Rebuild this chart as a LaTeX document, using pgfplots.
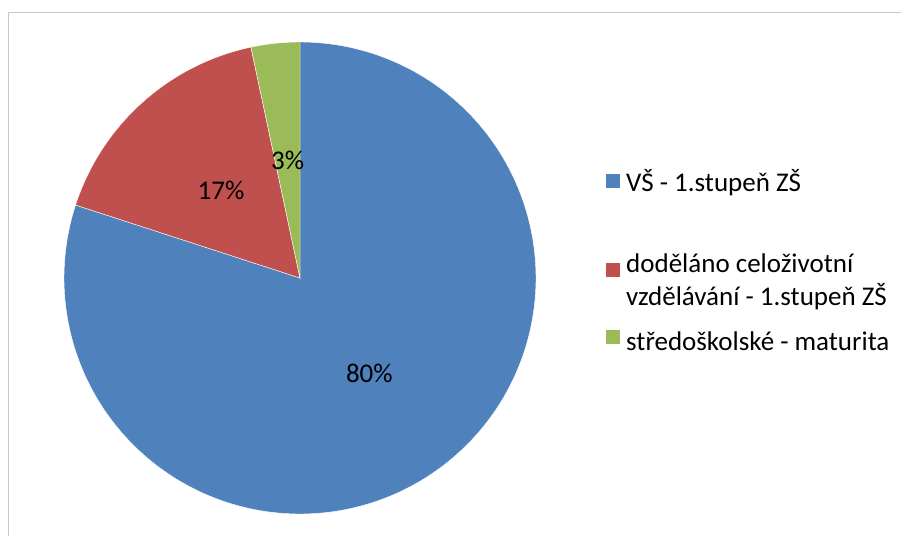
\documentclass[border=0pt]{standalone}
\usepackage{pgfplots}
\pgfplotsset{compat=1.18}
\usepackage{fontspec}
\setmainfont{Carlito}
\definecolor{cblue}{HTML}{4F81BD}
\definecolor{cred}{HTML}{C0504D}
\definecolor{cgreen}{HTML}{9BBB59}
\definecolor{cframe}{HTML}{C8C8C8}
\begin{document}
\begin{tikzpicture}[x=1pt,y=1pt]
\path[use as bounding box] (0,0) rectangle (901,536);
\draw[cframe, line width=1.2pt] (8.5,0) -- (8.5,523.5) -- (901,523.5);
% data: counts per category
\def\vA{24}\def\vB{5}\def\vC{1}
\pgfmathsetmacro\tot{\vA+\vB+\vC}
\pgfmathsetmacro\aA{90-360*\vA/\tot}
\pgfmathsetmacro\aB{\aA-360*\vB/\tot}
\pgfmathsetmacro\aC{\aB-360*\vC/\tot}
\pgfmathsetmacro\mA{(90+\aA)/2}
\pgfmathsetmacro\mB{(\aA+\aB)/2}
\pgfmathsetmacro\mC{(\aB+\aC)/2}
\begin{axis}[at={(64pt,22pt)}, anchor=south west, width=472pt, height=472pt,
  scale only axis, xmin=-1, xmax=1, ymin=-1, ymax=1, hide axis, clip=false]
\addplot[fill=cblue, draw=white, line width=0.4pt, domain=\aA:90, samples=200] ({cos(x)},{sin(x)}) -- (axis cs:0,0) -- cycle;
\addplot[fill=cred, draw=white, line width=0.4pt, domain=\aB:\aA, samples=60] ({cos(x)},{sin(x)}) -- (axis cs:0,0) -- cycle;
\addplot[fill=cgreen, draw=white, line width=0.4pt, domain=\aC:\aB, samples=20] ({cos(x)},{sin(x)}) -- (axis cs:0,0) -- cycle;
\node[font=\fontsize{27}{33}\selectfont] at (axis cs:{0.5*cos(\mA)},{0.5*sin(\mA)}) {80\%};
\node[font=\fontsize{27}{33}\selectfont] at (axis cs:{0.5*cos(\mB)},{0.5*sin(\mB)}) {17\%};
\node[font=\fontsize{27}{33}\selectfont] at (axis cs:{0.5*cos(\mC)},{0.5*sin(\mC)}) {3\%};
\end{axis}
% legend
\fill[cblue]  (606,536-188) rectangle (620,536-174);
\fill[cred]   (606,536-277) rectangle (620,536-263);
\fill[cgreen] (606,536-344) rectangle (620,536-330);
\begin{scope}[every node/.style={anchor=base west, inner sep=0pt, font=\fontsize{27}{33}\selectfont}]
\node at (626,536-192) {VŠ - 1.stupeň ZŠ};
\node at (626,536-272) {doděláno celoživotní};
\node at (626,536-305) {vzdělávání - 1.stupeň ZŠ};
\node at (626,536-350) {středoškolské - maturita};
\end{scope}
\end{tikzpicture}
\end{document}
